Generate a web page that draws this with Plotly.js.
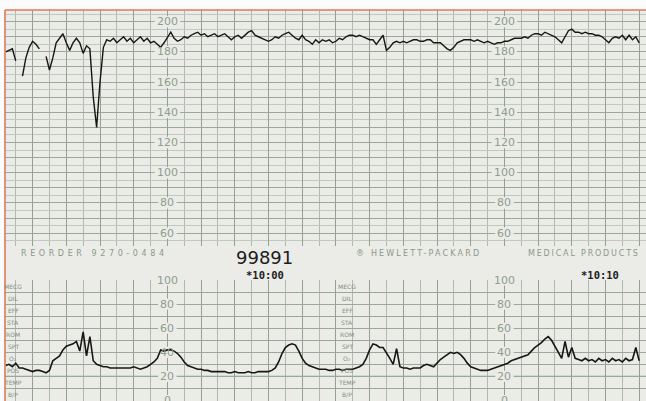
<!DOCTYPE html>
<html><head><meta charset="utf-8">
<script src="https://cdn.plot.ly/plotly-3.0.1.min.js"></script>
<style>html,body{margin:0;padding:0;background:#fff;}#chart{width:646px;height:401px;}</style>
</head><body><div id="chart"></div>
<script>
// ---- data (minutes since 09:55, sampled every 0.1 min) ----
const startMin = -2.8;
const stepMin = 0.1;
const fhrValues = [
180,181,182,174,null,164,176,183,187,185,182,null,177,168,176,186,189,192,186,181,
186,189,186,179,184,182,150,130,160,183,188,187,189,186,188,190,187,189,186,188,
190,187,189,186,187,185,183,186,190,193,189,187,188,190,189,191,192,193,191,192,
190,191,192,190,191,192,190,188,190,191,189,191,193,194,191,190,189,188,187,188,
190,189,191,192,193,191,189,188,191,188,187,185,188,186,188,187,188,186,187,189,
188,190,191,191,190,191,190,189,188,188,185,188,191,181,183,186,187,186,187,186,
187,188,188,187,187,188,188,186,186,186,184,182,181,183,186,187,188,188,188,187,
188,187,186,187,186,185,186,186,187,187,188,189,189,189,190,189,191,192,192,191,
193,192,191,190,188,186,190,194,195,193,193,192,193,192,192,191,191,190,188,186,
189,190,189,191,188,191,188,190,186
];
const uaValues = [
29,30,28,31,27,27,26,25,24,25,25,24,23,25,33,35,37,42,45,46,
47,49,41,57,37,53,33,30,29,28,28,27,27,27,27,27,27,27,28,27,
26,27,28,30,32,35,42,41,42,42,41,39,36,32,29,28,27,26,26,25,
25,24,24,24,24,24,23,23,24,23,23,23,24,23,23,24,24,24,24,25,
27,32,39,44,46,47,46,41,35,31,29,28,27,26,26,26,25,25,26,26,
25,26,26,26,27,28,30,35,42,47,46,44,44,40,35,30,43,28,27,27,
26,27,27,27,29,30,29,28,31,34,36,38,40,39,40,38,35,31,28,27,
26,25,25,25,26,27,28,29,30,31,33,34,35,36,37,38,41,44,46,48,
51,53,50,45,39,35,49,36,44,35,34,33,35,33,34,32,35,33,34,32,
35,33,34,32,35,33,34,44,33
];
const fhrScaleLabels = [200,180,160,140,120,100,80,60];
const uaScaleLabels = [100,80,60,40,20,0];
const scaleColumnsMin = [2, 12];
const rowLabels = ["MECG","DIL","EFF","STA","ROM","SPT","O\u2082","POS","TEMP","B/P"];
const rowLabelColumnsMin = [-2.58, 7.33];
const timeMarks = ["*10:00","*10:10"];
const timeMarkMin = [4.9, 14.84];
const stripId = "99891";
const reorderText = "REORDER 9270-0484";
const makerText = "\u00AE HEWLETT-PACKARD";
const productText = "MEDICAL PRODUCTS";

// ---- build ----
const W = 646, H = 401;
const paperCol = '#ebece8';
const ink = '#161616';
const labelCol = '#8e9d8c';
const times = fhrValues.map((_, i) => +(startMin + i * stepMin).toFixed(2));
const uaTimes = uaValues.map((_, i) => +(startMin + i * stepMin).toFixed(2));

const traces = [
  {x: times, y: fhrValues, xaxis: 'x', yaxis: 'y', type: 'scatter', mode: 'lines',
   line: {color: ink, width: 1.4}, connectgaps: false, hoverinfo: 'skip'},
  {x: uaTimes, y: uaValues, xaxis: 'x2', yaxis: 'y2', type: 'scatter', mode: 'lines',
   line: {color: ink, width: 1.6}, hoverinfo: 'skip'}
];

const xl = 5 / W;
const pxPerMin = 33.7;
const xRange = [(5 - 100) / pxPerMin, (W - 100) / pxPerMin];
const baseX = {
  domain: [xl, 1], range: xRange, showticklabels: false, ticks: '', zeroline: false,
  showline: false, showgrid: true, tick0: 0, dtick: 1, gridcolor: '#91a091', gridwidth: 1,
  minor: {dtick: 0.5, showgrid: true, gridcolor: '#afbaae', gridwidth: 1}, fixedrange: true
};

const annotations = [];
const shapes = [];
const labelFont = {family: 'DejaVu Sans', size: 11, color: labelCol};
function scaleLabel(c, v, xr, yr, halfH) {
  const txt = String(v);
  const halfW = (txt.length * 3.6 + 2) / pxPerMin;
  shapes.push({type: 'rect', xref: xr, yref: yr, x0: c - halfW, x1: c + halfW,
    y0: v - halfH, y1: v + halfH, fillcolor: paperCol, line: {width: 0}, layer: 'between'});
  annotations.push({x: c, y: v, xref: xr, yref: yr, text: txt, showarrow: false, font: labelFont});
}
scaleColumnsMin.forEach(c => {
  fhrScaleLabels.forEach(v => scaleLabel(c, v, 'x', 'y', 3.8));
  uaScaleLabels.forEach(v => scaleLabel(c, v, 'x2', 'y2', 4.6));
});
rowLabelColumnsMin.forEach(c => {
  rowLabels.forEach((t, i) => annotations.push({
    x: c, y: 95 - 10 * i, xref: 'x2', yref: 'y2', text: t, showarrow: false,
    font: {family: 'DejaVu Sans', size: 6, color: '#7f8d80'}
  }));
});
const spaced = [];
function bandText(text, x, y, anchor, font, width) {
  if (width) spaced.push({idx: annotations.length, width: width});
  annotations.push({x: x, y: y, xref: 'x', yref: 'paper', text: text, showarrow: false,
    xanchor: anchor, yanchor: 'middle', align: anchor === 'left' ? 'left' : 'center',
    font: font, borderpad: 0});
}
const bandFont = {family: 'DejaVu Sans', size: 8, color: '#8a988a'};
bandText(reorderText, -2.374, 1 - 254 / H, 'left', bandFont, 143);
bandText(makerText, 7.57, 1 - 254 / H, 'left', bandFont, 123);
bandText(productText, 12.67, 1 - 254 / H, 'left', bandFont, 110);
bandText(stripId, 4.88, 1 - 257.5 / H, 'center', {family: 'DejaVu Sans', size: 18, color: '#1c1c1c'});
timeMarks.forEach((t, i) => bandText(t, timeMarkMin[i], 1 - 275 / H, 'center',
  {family: 'DejaVu Sans Mono', size: 10.5, color: '#1c1c1c', weight: 'bold'}));

shapes.push(
  {type: 'rect', xref: 'paper', yref: 'paper', x0: 0, x1: 1, y0: 1 - 10 / H, y1: 1,
   fillcolor: '#fbfbfb', line: {width: 0}, layer: 'above'},
  {type: 'rect', xref: 'paper', yref: 'paper', x0: 0, x1: xl, y0: 0, y1: 1,
   fillcolor: '#fbfbfb', line: {width: 0}, layer: 'above'},
  {type: 'line', xref: 'paper', yref: 'paper', x0: xl, x1: 1, y0: 1 - 10 / H, y1: 1 - 10 / H,
   line: {color: '#e0785c', width: 1.6}, layer: 'above'},
  {type: 'line', xref: 'paper', yref: 'paper', x0: xl, x1: xl, y0: 0, y1: 1 - 10 / H,
   line: {color: '#e0785c', width: 1.6}, layer: 'above'},
  {type: 'line', xref: 'paper', yref: 'y2', x0: xl, x1: 1, y0: 20, y1: 20,
   line: {color: '#79ab86', width: 1.3}, layer: 'between'}
);

const layout = {
  width: W, height: H, margin: {l: 0, r: 0, t: 0, b: 0, pad: 0},
  paper_bgcolor: paperCol, plot_bgcolor: paperCol, showlegend: false,
  xaxis: Object.assign({}, baseX, {anchor: 'y'}),
  xaxis2: Object.assign({}, baseX, {anchor: 'y2', matches: 'x'}),
  yaxis: {domain: [1 - 246 / H, 1 - 10 / H], range: [51.5, 207.7], showticklabels: false,
    ticks: '', zeroline: false, showline: false, tick0: 0, dtick: 10, gridcolor: '#9aa79a',
    minor: {dtick: 5, showgrid: true, gridcolor: '#c0c9bf', gridwidth: 1}, fixedrange: true},
  yaxis2: {domain: [0, 1 - 280 / H], range: [-0.4, 100], showticklabels: false, ticks: '',
    zeroline: false, showline: false, tick0: 0, dtick: 10, gridcolor: '#9aa79a', fixedrange: true},
  annotations: annotations, shapes: shapes
};

Plotly.newPlot('chart', traces, layout, {staticPlot: true, displayModeBar: false}).then(gd => {
  spaced.forEach(s => {
    const g = gd.querySelector('.annotation[data-index="' + s.idx + '"] text');
    if (!g) return;
    const len = g.getComputedTextLength();
    const n = g.textContent.length;
    if (n > 1) g.style.letterSpacing = ((s.width - len) / (n - 1)).toFixed(2) + 'px';
  });
});
</script></body></html>
